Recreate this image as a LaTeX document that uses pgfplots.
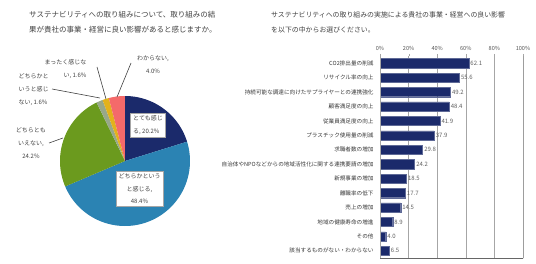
\documentclass[border=0pt]{standalone}
\usepackage{pgfplots}
\pgfplotsset{compat=1.18}
\usepackage{pgfplotstable}
\usepackage{fontspec}
\setmainfont{Noto Sans CJK JP}
\definecolor{cnavy}{HTML}{1B2A6B}
\definecolor{csteel}{HTML}{2B83B3}
\definecolor{cgreen}{HTML}{6B9A1E}
\definecolor{cgrey}{HTML}{98A88A}
\definecolor{cgold}{HTML}{E2B21C}
\definecolor{csalmon}{HTML}{F46A6A}
\definecolor{ctext}{HTML}{404040}
\definecolor{cgrid}{HTML}{A6A6A6}

\pgfplotstableread[col sep=comma]{
y,v
14,62.1
13,55.6
12,49.2
11,48.4
10,41.9
9,37.9
8,29.8
7,24.2
6,18.5
5,17.7
4,14.5
3,8.9
2,4.0
1,6.5
}\bardata

\begin{document}
\begin{tikzpicture}
\path[use as bounding box] (0pt,0pt) rectangle (536pt,263pt);

% titles
\node[anchor=base west, font=\fontsize{7.5}{9}\selectfont, text=ctext, inner sep=0pt] at (29pt,245pt) {サステナビリティへの取り組みについて、取り組みの結};
\node[anchor=base west, font=\fontsize{7.5}{9}\selectfont, text=ctext, inner sep=0pt] at (29pt,230pt) {果が貴社の事業・経営に良い影響があると感じますか。};
\node[anchor=base west, font=\fontsize{6.9}{9}\selectfont, text=ctext, inner sep=0pt] at (271pt,245pt) {サステナビリティへの取り組みの実施による貴社の事業・経営への良い影響};
\node[anchor=base west, font=\fontsize{6.9}{9}\selectfont, text=ctext, inner sep=0pt] at (271pt,230pt) {を以下の中からお選びください。};

% pie
\begin{axis}[at={(60pt,37pt)}, anchor=south west, scale only axis,
  width=130pt, height=130pt, xmin=-1, xmax=1, ymin=-1, ymax=1,
  hide axis, clip=false]
\addplot[fill=cnavy, draw=none, domain={90-3.6*20.2}:{90}, samples=60, variable=\t]
  ({cos(\t)},{sin(\t)}) -- (axis cs:0,0) -- cycle;
\addplot[fill=csteel, draw=none, domain={90-3.6*(20.2+48.4)}:{90-3.6*20.2}, samples=100, variable=\t]
  ({cos(\t)},{sin(\t)}) -- (axis cs:0,0) -- cycle;
\addplot[fill=cgreen, draw=none, domain={90-3.6*(20.2+48.4+24.2)}:{90-3.6*(20.2+48.4)}, samples=60, variable=\t]
  ({cos(\t)},{sin(\t)}) -- (axis cs:0,0) -- cycle;
\addplot[fill=cgrey, draw=none, domain={90-3.6*(20.2+48.4+24.2+1.6)}:{90-3.6*(20.2+48.4+24.2)}, samples=10, variable=\t]
  ({cos(\t)},{sin(\t)}) -- (axis cs:0,0) -- cycle;
\addplot[fill=cgold, draw=none, domain={90-3.6*(20.2+48.4+24.2+1.6+1.6)}:{90-3.6*(20.2+48.4+24.2+1.6)}, samples=10, variable=\t]
  ({cos(\t)},{sin(\t)}) -- (axis cs:0,0) -- cycle;
\addplot[fill=csalmon, draw=none, domain={90-3.6*(20.2+48.4+24.2+1.6+1.6+4.0)}:{90-3.6*(20.2+48.4+24.2+1.6+1.6)}, samples=15, variable=\t]
  ({cos(\t)},{sin(\t)}) -- (axis cs:0,0) -- cycle;
\end{axis}

% pie labels
\begin{scope}[every node/.style={font=\fontsize{6}{13}\selectfont, text=ctext}]
\node[draw=cgrid, fill=white, align=left, inner sep=2.5pt, line width=0.5pt] at (148pt,138pt) {とても感じ\\る, 20.2\%};
\node[draw=cgrid, fill=white, align=center, inner sep=2.5pt, line width=0.5pt, font=\fontsize{6}{12.5}\selectfont] at (139.5pt,74pt) {どちらかという\\と感じる,\\48.4\%};
\node[align=center] at (31pt,120pt) {どちらとも\\いえない,\\24.2\%};
\node[align=left, anchor=west] at (15pt,173pt) {どちらかと\\いうと感じ\\ない, 1.6\%};
\node[align=right, anchor=east] at (90pt,194pt) {まったく感じな\\い, 1.6\%};
\node[align=center] at (153pt,198pt) {わからない,\\4.0\%};
\end{scope}
\draw[ctext, line width=0.6pt] (49pt,120pt) -- (63pt,125pt);
\draw[ctext, line width=0.6pt] (52pt,174pt) -- (100pt,165pt);
\draw[ctext, line width=0.6pt] (97pt,196pt) -- (106pt,164pt);
\draw[ctext, line width=0.6pt] (131pt,200pt) -- (117pt,166pt);

% bars
\begin{axis}[at={(380pt,5pt)}, anchor=south west, scale only axis,
  width=143pt, height=202pt,
  xbar, bar width=9.2pt, bar shift=0pt,
  xmin=0, xmax=100, ymin=0.5, ymax=14.5,
  xtick={0,20,...,100},
  xticklabel pos=upper, xtick pos=upper,
  xticklabel={\pgfmathprintnumber{\tick}\%},
  /pgf/number format/assume math mode=true,
  x tick label style={font=\fontsize{5.6}{6}\selectfont, text=ctext!90},
  tick align=outside, major tick length=2pt,
  x tick style={cgrid},
  ytick={1,...,14},
  yticklabels={該当するものがない・わからない,その他,地域の健康寿命の増進,売上の増加,離職率の低下,新規事業の増加,自治体やNPOなどからの地域活性化に関する連携要請の増加,求職者数の増加,プラスチック使用量の削減,従業員満足度の向上,顧客満足度の向上,持続可能な調達に向けたサプライヤーとの連携強化,リサイクル率の向上,CO2排出量の削減},
  y tick label style={font=\fontsize{5.6}{6}\selectfont, text=black!78, xshift=-1pt},
  y tick style={draw=none},
  xmajorgrids, grid style={cgrid, line width=0.5pt},
  axis line style={draw=none},
  nodes near coords,
  nodes near coords style={font=\fontsize{6}{7}\selectfont, text=ctext!85, anchor=west, inner sep=1.5pt,
    /pgf/number format/.cd, fixed, fixed zerofill, precision=1, assume math mode=true},
]
\addplot[fill=cnavy, draw=cnavy!70!white, line width=0.3pt] table[x=v, y=y] {\bardata};
\draw[cgrid, line width=0.6pt] (rel axis cs:0,0) -- (rel axis cs:0,1);
\draw[ctext!80, line width=0.6pt] (rel axis cs:0,0) -- (rel axis cs:1,0) -- (rel axis cs:1,1);
\end{axis}
\end{tikzpicture}
\end{document}
